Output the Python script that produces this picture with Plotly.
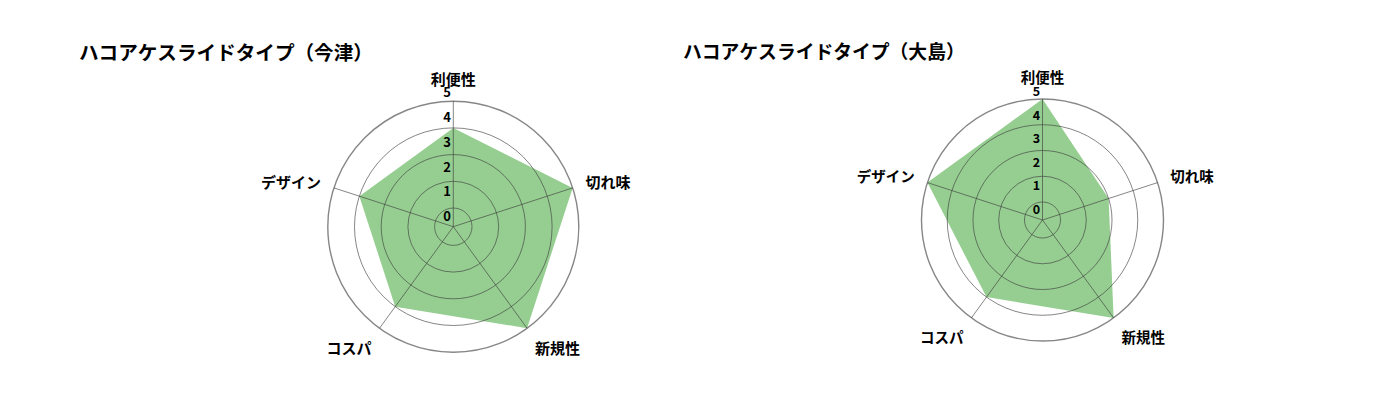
import plotly.graph_objects as go

# データ
categories = ["利便性", "切れ味", "新規性", "コスパ", "デザイン"]
titles = ["ハコアケスライドタイプ（今津）", "ハコアケスライドタイプ（大島）"]
imazu_values = [4, 5, 5, 4, 4]
oshima_values = [5, 3, 5, 4, 5]
grid_vals = [1, 2, 3, 4, 5]
tick_labels = [0, 1, 2, 3, 4, 5]

W, H = 1400, 420
OFF = 8  # ページ余白ぶんの補正
GREEN = "rgb(150, 206, 145)"
GRID = "rgba(60, 60, 60, 0.62)"
FONT = "Noto Sans CJK JP"

# 各チャートの配置 (px): 中心, 半径, 目盛り文字の間隔, 文字サイズ
charts = [
    dict(cx=453.3, cy=226.7, R=125.5, step=24.7, lab0=10.0, fs=15, tfs=13, title_x=77, title_y=52, title_fs=19.6),
    dict(cx=1042.5, cy=220.0, R=121.0, step=23.6, lab0=10.0, fs=14.5, tfs=12.5, title_x=681, title_y=51, title_fs=18.8),
]
R_MIN, R_MAX = 0.3, 5
LAB_MAX = 5.4


def dom(cx, cy, r):
    cx, cy = cx - OFF, cy - OFF
    return dict(x=[(cx - r) / W, (cx + r) / W], y=[1 - (cy + r) / H, 1 - (cy - r) / H])


fig = go.Figure()
layout = {}
annotations = []

for i, (vals, c) in enumerate(zip([imazu_values, oshima_values], charts)):
    ids = [f"polar{3 * i + k}" for k in (1, 2, 3)]
    ids = ["polar" if s == "polar1" else s for s in ids]
    main_id, grid_id, lab_id = ids

    fig.add_trace(go.Scatterpolar(
        r=vals + vals[:1], theta=categories + categories[:1],
        mode="lines", fill="toself", fillcolor=GREEN,
        line=dict(width=0, color=GREEN),
        subplot=main_id, showlegend=False, hoverinfo="r+theta",
    ))
    fig.add_trace(go.Scatterpolar(r=[], theta=[], subplot=grid_id, showlegend=False))
    fig.add_trace(go.Scatterpolar(r=[], theta=[], subplot=lab_id, showlegend=False))

    # データと項目名
    layout[main_id] = dict(
        domain=dom(c["cx"], c["cy"], c["R"]),
        bgcolor="white",
        radialaxis=dict(range=[R_MIN, R_MAX], visible=False),
        angularaxis=dict(categoryorder="array", categoryarray=categories, rotation=90,
                         direction="clockwise", showgrid=False, showline=False,
                         ticks="outside", ticklen=10, tickcolor="rgba(0,0,0,0)",
                         tickfont=dict(family=FONT, size=c["fs"], color="black", weight="bold")),
    )

    # グリッド (塗りの上に重ねる) : 5項目 → 72度ごと
    layout[grid_id] = dict(
        domain=dom(c["cx"], c["cy"], c["R"]),
        bgcolor="rgba(0,0,0,0)",
        radialaxis=dict(range=[R_MIN, R_MAX], tickvals=grid_vals, showticklabels=False,
                        showline=False, ticks="", gridcolor=GRID, gridwidth=1.4),
        angularaxis=dict(type="linear", thetaunit="degrees", tick0=0, dtick=360 / len(categories),
                         rotation=90, direction="clockwise",
                         showticklabels=False, ticks="",
                         gridcolor=GRID, gridwidth=1.4,
                         linecolor=GRID, linewidth=1.4, showline=True),
    )

    # 目盛り数字用の重ね合わせ軸
    lab_min = -c["lab0"] / c["step"]
    r_lab = (LAB_MAX - lab_min) * c["step"]
    layout[lab_id] = dict(
        domain=dom(c["cx"], c["cy"], r_lab),
        bgcolor="rgba(0,0,0,0)",
        radialaxis=dict(range=[lab_min, LAB_MAX], tickvals=tick_labels, angle=90, tickangle=90,
                        side="counterclockwise", showgrid=False, showline=False, ticks="",
                        tickfont=dict(family=FONT, size=c["tfs"], color="black", weight="bold")),
        angularaxis=dict(visible=False, rotation=90, direction="clockwise"),
    )

    annotations.append(dict(
        text=titles[i], x=(c["title_x"] - OFF) / W, y=1 - (c["title_y"] - OFF) / H,
        xref="paper", yref="paper", xanchor="left", yanchor="middle", showarrow=False,
        font=dict(family=FONT, size=c["title_fs"], color="black", weight="bold"),
    ))

fig.update_layout(
    width=W, height=H, margin=dict(l=0, r=0, t=0, b=0),
    paper_bgcolor="white", plot_bgcolor="white",
    annotations=annotations, **layout,
)

fig.write_html("out.html")
